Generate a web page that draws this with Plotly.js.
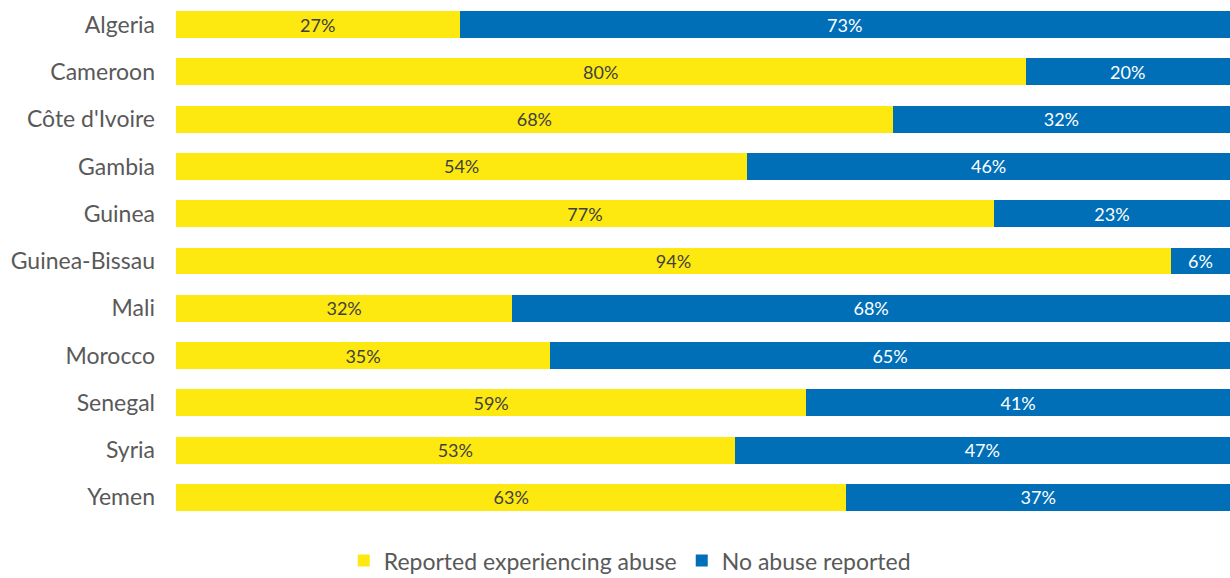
<!DOCTYPE html>
<html>
<head>
<meta charset="utf-8">
<script src="https://cdn.plot.ly/plotly-3.0.1.min.js"></script>
<style>html,body{margin:0;padding:0;background:#fff;}#chart{width:1230px;height:578px;}</style>
</head>
<body>
<div id="chart"></div>
<script>
const countries = ["Algeria","Cameroon","Côte d'Ivoire","Gambia","Guinea","Guinea-Bissau","Mali","Morocco","Senegal","Syria","Yemen"];
// bar lengths (share of respondents, %)
const reportedAbuse = [26.9,80.6,68.0,54.2,77.6,94.4,31.9,35.5,59.8,53.0,63.6];
const noAbuse = [73.1,19.4,32.0,45.8,22.4,5.6,68.1,64.5,40.2,47.0,36.4];
// data labels as printed on the bars
const reportedLabels = [27,80,68,54,77,94,32,35,59,53,63];
const noAbuseLabels = [73,20,32,46,23,6,68,65,41,47,37];
const seriesNames = ["Reported experiencing abuse","No abuse reported"];

const traces = [
  {type:'bar', orientation:'h', name:seriesNames[0], y:countries, x:reportedAbuse,
   marker:{color:'#FDE90F'}, text:reportedLabels.map(v=>v+'%'), textposition:'inside',
   insidetextanchor:'middle', constraintext:'none', textangle:0,
   textfont:{family:'Lato', size:18, color:'#404040'}, hoverinfo:'x+y'},
  {type:'bar', orientation:'h', name:seriesNames[1], y:countries, x:noAbuse,
   marker:{color:'#006FB7'}, text:noAbuseLabels.map(v=>v+'%'), textposition:'inside',
   insidetextanchor:'middle', constraintext:'none', textangle:0,
   textfont:{family:'Lato', size:18, color:'#ffffff'}, hoverinfo:'x+y'}
];
const layout = {
  width:1230, height:578, barmode:'stack', bargap:0.43,
  margin:{l:176, r:0, t:1, b:57},
  paper_bgcolor:'#fff', plot_bgcolor:'#fff',
  font:{family:'Lato', color:'#595959'},
  xaxis:{range:[0,100], showgrid:false, zeroline:false, showticklabels:false, fixedrange:true},
  yaxis:{autorange:'reversed', showgrid:false, zeroline:false, ticks:'', ticklabelstandoff:20,
         tickfont:{family:'Lato', size:23, color:'#595959'}},
  showlegend:true,
  legend:{orientation:'h', x:0.512, xref:'container', xanchor:'center', y:0.03, yref:'container', yanchor:'middle',
          font:{family:'Lato', size:23, color:'#595959'}, traceorder:'normal', itemwidth:30}
};
Plotly.newPlot('chart', traces, layout, {displayModeBar:false, staticPlot:true});
</script>
</body>
</html>
